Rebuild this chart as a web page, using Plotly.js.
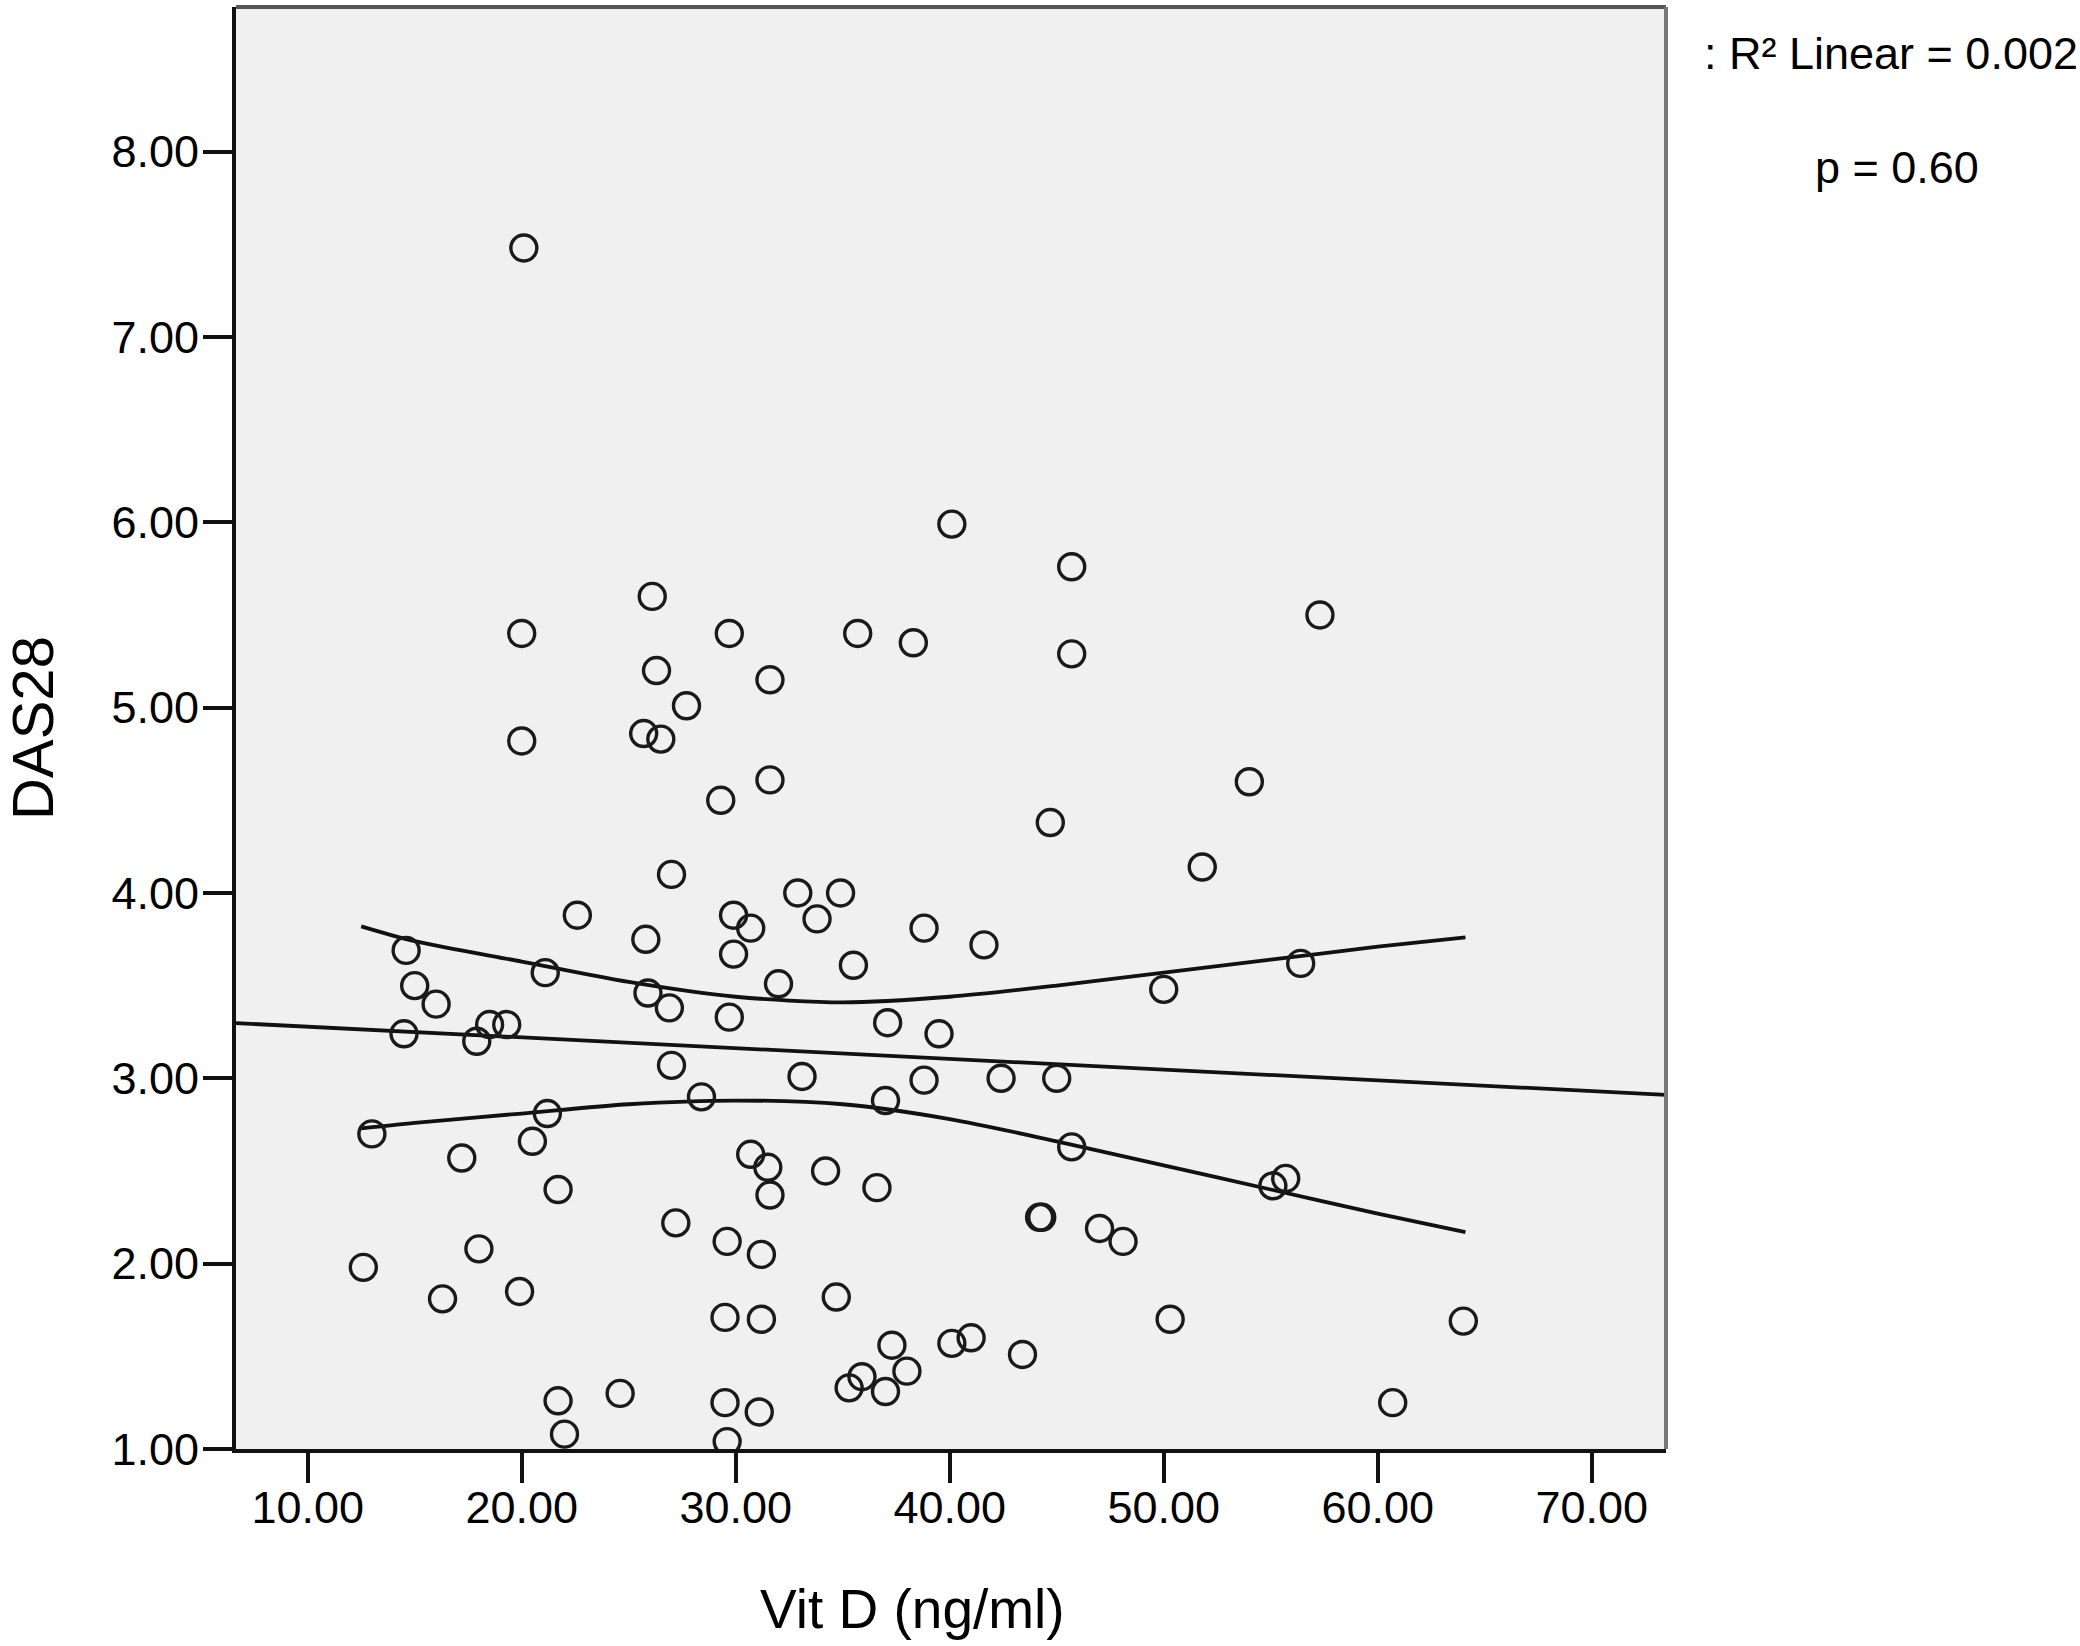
<!DOCTYPE html>
<html>
<head>
<meta charset="utf-8">
<script src="https://cdn.plot.ly/plotly-3.0.1.min.js"></script>
<style>html,body{margin:0;padding:0;background:#fff;}#chart{width:2080px;height:1646px;}</style>
</head>
<body>
<div id="chart"></div>
<script>
// Scatter data: Vit D (ng/ml) vs DAS28
const vitD = [20.1,40.1,45.7,26.1,57.3,20.0,29.7,35.7,38.3,45.7,
  26.3,31.6,27.7,25.7,26.5,20.0,31.6,54.0,29.3,44.7,
  51.8,27.0,32.9,34.9,22.6,29.9,33.8,30.7,38.8,41.6,
  14.6,25.8,29.9,56.4,35.5,21.1,15.0,32.0,50.0,25.9,
  16.0,26.9,29.7,37.1,18.5,19.3,14.5,39.5,17.9,27.0,
  33.1,38.8,42.4,45.0,28.4,37.0,21.2,13.0,20.5,45.7,
  30.7,31.5,17.2,34.2,31.6,21.7,36.6,55.1,55.7,27.2,
  44.2,44.3,47.0,48.1,29.6,31.2,18.0,12.6,19.9,16.3,
  34.7,29.5,31.2,50.3,64.0,37.3,40.1,41.0,43.4,38.0,
  35.9,35.3,37.0,24.6,21.7,29.5,31.1,60.7,22.0,29.6];
const das28 = [7.48,5.99,5.76,5.60,5.50,5.40,5.40,5.40,5.35,5.29,
  5.20,5.15,5.01,4.86,4.83,4.82,4.61,4.60,4.50,4.38,
  4.14,4.10,4.00,4.00,3.88,3.88,3.86,3.81,3.81,3.72,
  3.69,3.75,3.67,3.62,3.61,3.57,3.50,3.51,3.48,3.46,
  3.40,3.38,3.33,3.30,3.29,3.29,3.24,3.24,3.20,3.07,
  3.01,2.99,3.00,3.00,2.90,2.88,2.81,2.70,2.66,2.63,
  2.59,2.52,2.57,2.50,2.37,2.40,2.41,2.42,2.46,2.22,
  2.25,2.25,2.19,2.12,2.12,2.05,2.08,1.98,1.85,1.81,
  1.82,1.71,1.70,1.70,1.69,1.56,1.57,1.60,1.51,1.42,
  1.39,1.33,1.31,1.30,1.26,1.25,1.20,1.25,1.08,1.04];

// Linear fit line (read at plot edges)
const fitX = [6.65, 73.47];
const fitY = [3.298, 2.911];

// 95% confidence band curves
const bandX = [12.5, 15, 20, 25, 30, 35, 40, 45, 50, 55, 60, 64.1];
const upperY = [3.82, 3.74, 3.63, 3.52, 3.44, 3.41, 3.44, 3.50, 3.57, 3.64, 3.71, 3.76];
const lowerY = [2.73, 2.76, 2.81, 2.86, 2.88, 2.86, 2.78, 2.66, 2.53, 2.40, 2.27, 2.17];

const xRange = [6.65, 73.47];
const yRange = [1, 8.78];

const lineStyle = {color: '#111111', width: 3.8, shape: 'spline', smoothing: 0.8};

const traces = [
  {x: fitX, y: fitY, mode: 'lines', line: {color: '#111111', width: 3.8}, hoverinfo: 'skip'},
  {x: bandX, y: upperY, mode: 'lines', line: lineStyle, hoverinfo: 'skip'},
  {x: bandX, y: lowerY, mode: 'lines', line: lineStyle, hoverinfo: 'skip'},
  {x: vitD, y: das28, mode: 'markers',
   marker: {symbol: 'circle-open', size: 26, color: '#1a1a1a', line: {width: 3.4, color: '#1a1a1a'}}}
];

const font = {family: '"Liberation Sans", Arial, Helvetica, sans-serif', color: '#000'};

const layout = {
  width: 2080, height: 1646,
  margin: {l: 236, r: 414, t: 7, b: 197},
  paper_bgcolor: '#ffffff',
  plot_bgcolor: '#f0f0f0',
  showlegend: false,
  font: font,
  xaxis: {
    range: xRange, tick0: 10, dtick: 10, tickformat: '.2f',
    showgrid: false, zeroline: false,
    showline: true, linecolor: '#111', linewidth: 4,
    ticks: 'outside', ticklen: 30, tickwidth: 4, tickcolor: '#111',
    ticklabelstandoff: -14,
    tickfont: {family: font.family, size: 45, color: '#000'}
  },
  yaxis: {
    range: yRange, tick0: 1, dtick: 1, tickformat: '.2f',
    showgrid: false, zeroline: false,
    showline: true, linecolor: '#111', linewidth: 4,
    ticks: 'outside', ticklen: 29, tickwidth: 4, tickcolor: '#111',
    ticklabelstandoff: -5,
    tickfont: {family: font.family, size: 45, color: '#000'},
    title: {text: 'DAS28', font: {family: font.family, size: 58, color: '#000'}, standoff: 40}
  },
  shapes: [
    {type: 'line', xref: 'paper', yref: 'paper', x0: 0, x1: 1, y0: 1, y1: 1, line: {color: '#555', width: 4}},
    {type: 'line', xref: 'paper', yref: 'paper', x0: 1, x1: 1, y0: 0, y1: 1, line: {color: '#777', width: 4}}
  ],
  annotations: [
    {xref: 'paper', yref: 'paper', x: 0.473, y: -0.111, xanchor: 'center', yanchor: 'middle',
     text: 'Vit D (ng/ml)', showarrow: false, font: {family: font.family, size: 55, color: '#000'}},
    {xref: 'paper', yref: 'paper', x: 1.025, y: 0.968, xanchor: 'left', yanchor: 'middle',
     text: ': R² Linear = 0.002', showarrow: false, font: {family: font.family, size: 45, color: '#000'}},
    {xref: 'paper', yref: 'paper', x: 1.1615, y: 0.889, xanchor: 'center', yanchor: 'middle',
     text: 'p = 0.60', showarrow: false, font: {family: font.family, size: 45, color: '#000'}}
  ]
};

Plotly.newPlot('chart', traces, layout, {displayModeBar: false, staticPlot: true});
</script>
</body>
</html>
